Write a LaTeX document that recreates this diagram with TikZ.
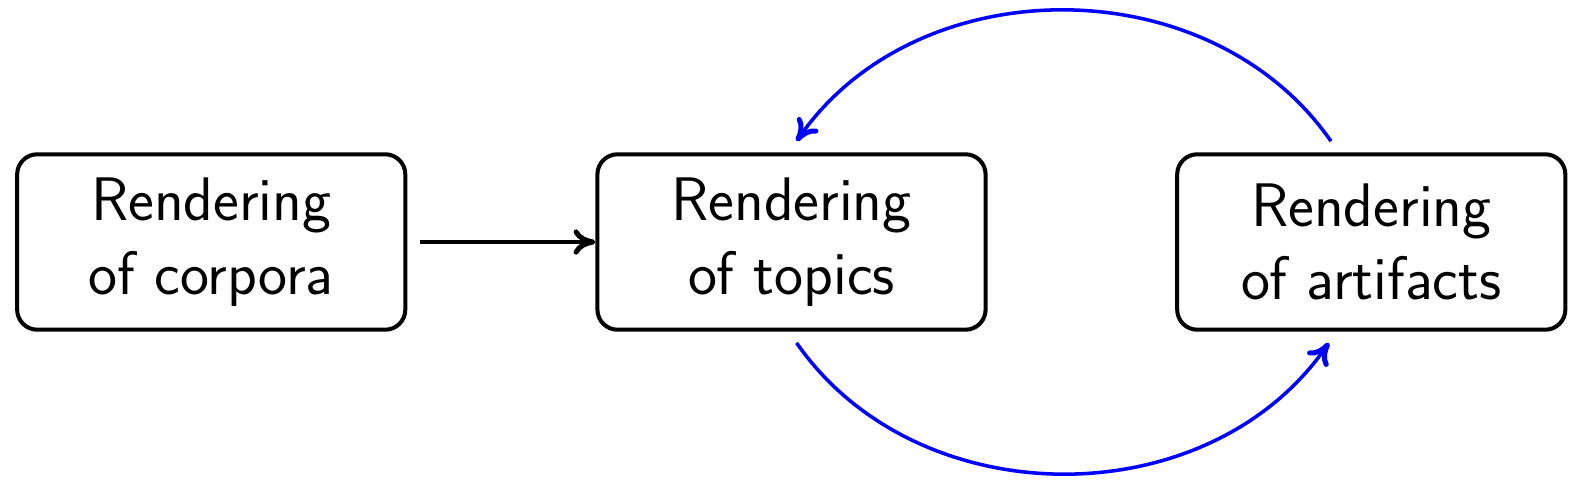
\documentclass[tikz,border=0pt]{standalone}
\usetikzlibrary{calc,arrows.meta}
\begin{document}
\begin{tikzpicture}[x=0.3pt,y=-0.3pt,
  box/.style={draw, line width=1.2pt, rounded corners=6pt, minimum width=115.5pt, minimum height=52.2pt,
    align=center, font=\sffamily\fontsize{18.3}{21.9}\selectfont, inner sep=0pt},
  tip/.style={-{To[length=6.5pt,width=7.5pt,line width=1.5pt]}},
  blk/.style={tip, line width=1.2pt},
  blu/.style={tip, blue, line width=1.05pt}]
\useasboundingbox (0,0) rectangle (1568,478);
\node[box] (n1) at (209.5,240) {Rendering\\of corpora};
\node[box] (n2) at (785,240) {Rendering\\of topics};
\node[box] (n3) at (1360,240) {Rendering\\of artifacts};
\draw[blk] ($(n1.east)+(13,0)$) -- (n2.west);
\coordinate (a) at ($(n3.north)+(-40,-11)$);
\coordinate (b) at ($(n2.north)+(5,-11)$);
\draw[blu] (a) .. controls ($(a)+(-120,-173)$) and ($(b)+(120,-173)$) .. (b);
\coordinate (c) at ($(n2.south)+(5,11)$);
\coordinate (d) at ($(n3.south)+(-42,11)$);
\draw[blu] (c) .. controls ($(c)+(120,173)$) and ($(d)+(-120,173)$) .. (d);
\end{tikzpicture}
\end{document}
